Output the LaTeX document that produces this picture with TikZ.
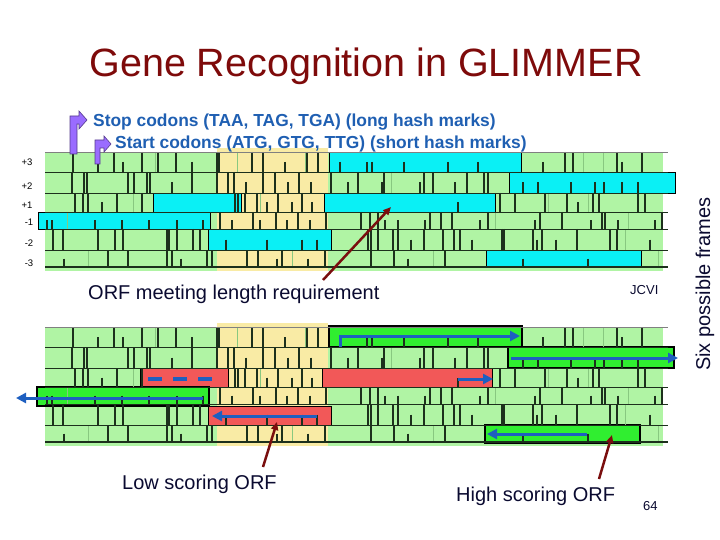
\documentclass[tikz,border=0pt]{standalone}
\usepackage{fontspec}
\setmainfont{Liberation Sans}
\usetikzlibrary{arrows.meta}
\definecolor{bggreen}{HTML}{B0F4A4}
\definecolor{bgyellow}{HTML}{F9EBA5}
\definecolor{barcyan}{HTML}{0AF0F5}
\definecolor{bargreen}{HTML}{30EE30}
\definecolor{barred}{HTML}{F25858}
\definecolor{arrowblue}{HTML}{1E5FC0}
\definecolor{ptrred}{HTML}{7A0E0E}
\definecolor{titlered}{HTML}{7E0A0A}
\definecolor{legendblue}{HTML}{1F5FB2}
\definecolor{purp}{HTML}{9A6CFF}
\definecolor{labelnavy}{HTML}{0A0A30}
\definecolor{markcol}{HTML}{1C301C}
\definecolor{faintcol}{HTML}{88C880}
\tikzset{
 markL/.style={markcol, line width=1.1pt},
 markS/.style={markcol, line width=1.1pt},
 markF/.style={faintcol, line width=1pt},
 rowline/.style={markcol, line width=0.6pt},
 cyanbar/.style={fill=barcyan, draw=black, line width=0.9pt},
 greenbar/.style={fill=bargreen, draw=black, line width=1.1pt},
 redbar/.style={fill=barred, draw=black, line width=0.9pt},
 bluearrow/.style={arrowblue, line width=3pt, -{Triangle[length=10pt,width=10pt]}},
 bluedash/.style={arrowblue, line width=3.5pt, dash pattern=on 14pt off 11pt},
 pointer/.style={ptrred, line width=2.5pt, -{Triangle[length=8pt,width=7pt]}},
 lbl/.style={inner sep=0pt, text=labelnavy, font=\fontsize{20}{24}\selectfont},
 smalllbl/.style={inner sep=0pt, text=labelnavy, font=\fontsize{13}{15}\selectfont},
 rowlbl/.style={inner sep=0pt, text=black, font=\fontsize{9.5}{11}\selectfont},
 legend/.style={inner sep=0pt, text=legendblue, font=\fontsize{17.4}{19}\selectfont\bfseries},
 purparrow/.style={fill=purp, draw=purp!55!black, line width=0.6pt},
}
\newcommand\rowmarks[5]{%
  \foreach \x in {#5} {\draw[markF] (\x,#1) -- (\x,#2);}
  \foreach \x in {#3} {\draw[markL] (\x,#1) -- (\x,#2);}
  \foreach \x in {#4} {\draw[markS] (\x,{(#1+#2)/2}) -- (\x,#2);}
}
\newcommand\allmarks{%
 \rowmarks{152}{172}{73,114,142,158,176,217,219,252,263,307,318,565,573,617,642}{98,123,192,285,340,367,372,404,448,478,543,622}{155,237,305,583,603}
 \rowmarks{172}{193}{72,84,87,128,134,147,150,192,217,228,234,263,275,299,331,358,384,424,433,467,484,488}{172,246,288,311,348,382,420,455,523,538,571,595,604,622,638}{391}
 \rowmarks{193}{212}{75,83,88,117,142,235,238,245,257,278,302,500,515,545,567,593,599,638,645}{102,267,292,312,458,578}{133,260,548,588}
 \rowmarks{212}{229}{220,253,276,298,326,361,370,378,430,441,452,488,540,562,602,605,662}{47,52,95,122,149,177,203,232,260,287,310,385,398,425,480,535,591,618,655}{67,495,628}
 \rowmarks{229}{250}{53,63,98,115,123,167,169,177,193,200,368,371,378,393,398,424,443,454,460,502,504,533,542,577,610,617}{226,267,302,317,411,472,537,556,650}{625}
 \rowmarks{250}{267}{108,128,167,172,207,212,247,258,282,325,371,394,445}{64,181,277,308,408,523,588}{88,292,433,658}
}
\newcommand\panelbg{%
 \fill[bggreen] (45,152) rectangle (663,271);
 \fill[bgyellow] (217,148) rectangle (328,271);
}
\newcommand\rowlines{%
 \foreach \y in {172,193,212,229,250} {\draw[rowline] (45,\y) -- (668,\y);}
 \draw[rowline, draw=gray] (45,152) -- (668,152);
 \draw[markcol, line width=1.4pt] (45,267) -- (668,267);
}
\begin{document}
\begin{tikzpicture}[x=1pt,y=-1pt]
\useasboundingbox (0,0) rectangle (720,540);
% title
\node[inner sep=0pt, anchor=base, text=titlered, font=\fontsize{39.5}{44}\selectfont] (title) at (366,77) {Gene Recognition in GLIMMER};
% ---------- top panel ----------
\panelbg
\draw[cyanbar] (329,152) rectangle (521,172);
\draw[cyanbar] (509,172) rectangle (675,193);
\draw[cyanbar] (153,193) rectangle (241,212);
\draw[cyanbar] (324,193) rectangle (495,212);
\draw[cyanbar] (38,212) rectangle (210,229);
\draw[cyanbar] (208,229) rectangle (331,250);
\draw[cyanbar] (486,250) rectangle (641,267);
\allmarks
\rowlines
% row labels
\node[rowlbl] (l3) at (27,162) {+3};
\node[rowlbl] (l2) at (27,186) {+2};
\node[rowlbl] (l1) at (27,205) {+1};
\node[rowlbl] (m1) at (29,222) {-1};
\node[rowlbl] (m2) at (29,243) {-2};
\node[rowlbl] (m3) at (29,263) {-3};
% legend arrows
\draw[purparrow] (70,154) -- (70,116) -- (79,116) -- (79,111) -- (87,120) -- (79,129) -- (79,124) -- (77,124) -- (77,154) -- cycle;
\draw[purparrow] (95,164) -- (95,140) -- (104,140) -- (104,136) -- (111,144) -- (104,152) -- (104,148) -- (100,148) -- (100,164) -- cycle;
\node[legend, anchor=base west] (stop) at (93,127) {Stop codons (TAA, TAG, TGA) (long hash marks)};
\node[legend, anchor=base west] (start) at (115,149) {Start codons (ATG, GTG, TTG) (short hash marks)};
% ---------- bottom panel ----------
\begin{scope}[shift={(0,175)}]
\panelbg
\end{scope}
\draw[greenbar] (329,326) rectangle (522,347);
\draw[greenbar] (508,347) rectangle (674,368);
\draw[redbar] (140,368) rectangle (228,387);
\draw[redbar] (322,368) rectangle (492,387);
\draw[greenbar] (37,387) rectangle (209,406);
\draw[redbar] (208,406) rectangle (331,425);
\draw[greenbar] (485,425) rectangle (640,443);
\begin{scope}[shift={(0,175)}]
\allmarks
\rowlines
\end{scope}
% blue arrows
\draw[bluearrow] (340,347) |- (520,336);
\draw[bluearrow] (511,358) -- (678,358);
\draw[bluedash] (148,379) -- (213,379);
\draw[bluearrow] (458,379) -- (493,379);
\draw[bluearrow] (203,398) -- (16,398);
\draw[bluearrow] (317,416) -- (212,416);
\draw[bluearrow] (587,434) -- (487,434);
% labels
\node[lbl, anchor=base west] (orf) at (88,299) {ORF meeting length requirement};
\node[smalllbl, anchor=base west] (jcvi) at (630,294) {JCVI};
\node[lbl, anchor=base west] (low) at (122,489) {Low scoring ORF};
\node[lbl, anchor=base west] (high) at (456,501) {High scoring ORF};
\node[smalllbl, anchor=base west] (pg) at (643,510) {64};
\node[lbl, anchor=base west, rotate=90] (six) at (710,371) {Six possible frames};
% pointers
\coordinate (s1) at (323,280);
\coordinate (t1) at (391,207);
\coordinate (s2) at (263,467);
\coordinate (t2) at (277,422);
\coordinate (s3) at (599,479);
\coordinate (t3) at (612,435);
\draw[pointer] (s1) -- (t1);
\draw[pointer] (s2) -- (t2);
\draw[pointer] (s3) -- (t3);
\end{tikzpicture}
\end{document}
